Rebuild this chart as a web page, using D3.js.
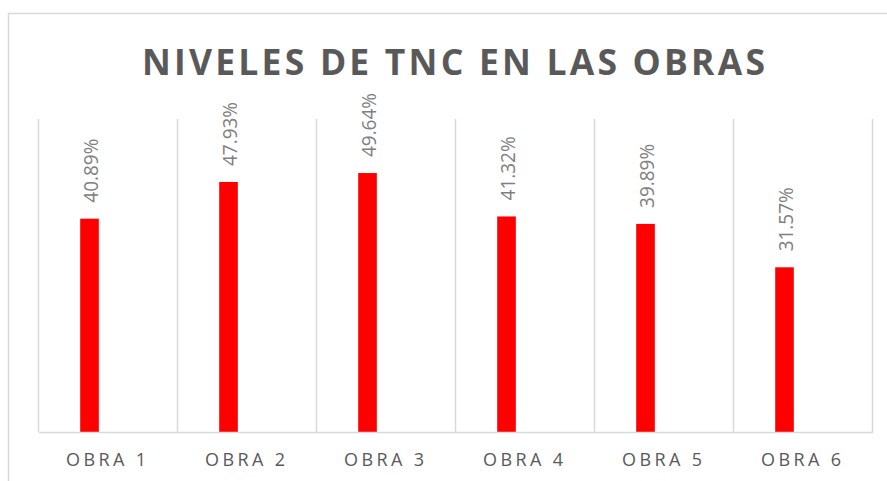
<!DOCTYPE html>
<html>
<head>
<meta charset="utf-8">
<script src="https://cdn.jsdelivr.net/npm/d3@7"></script>
<style>
  html, body { margin: 0; padding: 0; background: #ffffff; }
  svg { display: block; }
</style>
</head>
<body>
<div id="chart"></div>
<script>
// Chart data
const categories = ["OBRA 1", "OBRA 2", "OBRA 3", "OBRA 4", "OBRA 5", "OBRA 6"];
const tncValues = [0.4089, 0.4793, 0.4964, 0.4132, 0.3989, 0.3157];
const titleText = "NIVELES DE TNC EN LAS OBRAS";

const W = 887, H = 481;
const plot = { left: 38.5, right: 872.5, top: 119, bottom: 432 };

const svg = d3.select("#chart").append("svg")
  .attr("width", W).attr("height", H);

// Chart area frame
svg.append("rect")
  .attr("x", 8.5).attr("y", 13.5)
  .attr("width", 1000).attr("height", 600)
  .attr("fill", "none")
  .attr("stroke", "#d9d9d9")
  .attr("stroke-width", 1.5);

// Title
svg.append("text")
  .attr("x", 453.5).attr("y", 74.5)
  .attr("text-anchor", "middle")
  .attr("textLength", 623)
  .attr("lengthAdjust", "spacing")
  .attr("font-family", "'Open Sans', sans-serif")
  .attr("font-weight", "bold")
  .attr("font-size", 35.5)
  .attr("fill", "#595959")
  .text(titleText);

const x = d3.scaleBand()
  .domain(categories)
  .range([plot.left, plot.right])
  .padding(0);

const y = d3.scaleLinear()
  .domain([0, 0.6])
  .range([plot.bottom, plot.top]);

const bw = x.bandwidth();

// Category separators
const edges = categories.map(c => x(c)).concat([plot.right]);
svg.append("g").selectAll("line")
  .data(edges)
  .join("line")
  .attr("x1", d => d).attr("x2", d => d)
  .attr("y1", plot.top).attr("y2", plot.bottom)
  .attr("stroke", "#d9d9d9")
  .attr("stroke-width", 1.5);

// Bars
const barOffset = 0.3 * bw;
const barWidth = 0.134 * bw;
svg.append("g").selectAll("rect")
  .data(tncValues)
  .join("rect")
  .attr("x", (d, i) => x(categories[i]) + barOffset)
  .attr("y", d => y(d))
  .attr("width", barWidth)
  .attr("height", d => y(0) - y(d))
  .attr("fill", "#ff0000");

// Value labels, rotated above each bar
const fmt = d3.format(".2%");
svg.append("g").selectAll("text")
  .data(tncValues)
  .join("text")
  .attr("transform", (d, i) => {
    const cx = x(categories[i]) + barOffset + barWidth / 2 + 1;
    const cy = y(d) - 16;
    return `translate(${cx},${cy}) rotate(-90)`;
  })
  .attr("dy", "0.36em")
  .attr("text-anchor", "start")
  .attr("textLength", 64)
  .attr("lengthAdjust", "spacingAndGlyphs")
  .attr("font-family", "'Open Sans', sans-serif")
  .attr("font-size", 20)
  .attr("fill", "#808080")
  .text(d => fmt(d));

// Horizontal axis
const xAxis = svg.append("g")
  .attr("transform", `translate(0,${plot.bottom})`)
  .call(d3.axisBottom(x).tickSize(0).tickPadding(0));
xAxis.select(".domain")
  .attr("stroke", "#d9d9d9")
  .attr("stroke-width", 1.5);
xAxis.selectAll("text")
  .attr("x", -2)
  .attr("y", 34)
  .attr("dy", 0)
  .attr("font-family", "'Open Sans', sans-serif")
  .attr("font-size", 18)
  .attr("fill", "#595959")
  .attr("textLength", 80)
  .attr("lengthAdjust", "spacing");
</script>
</body>
</html>
